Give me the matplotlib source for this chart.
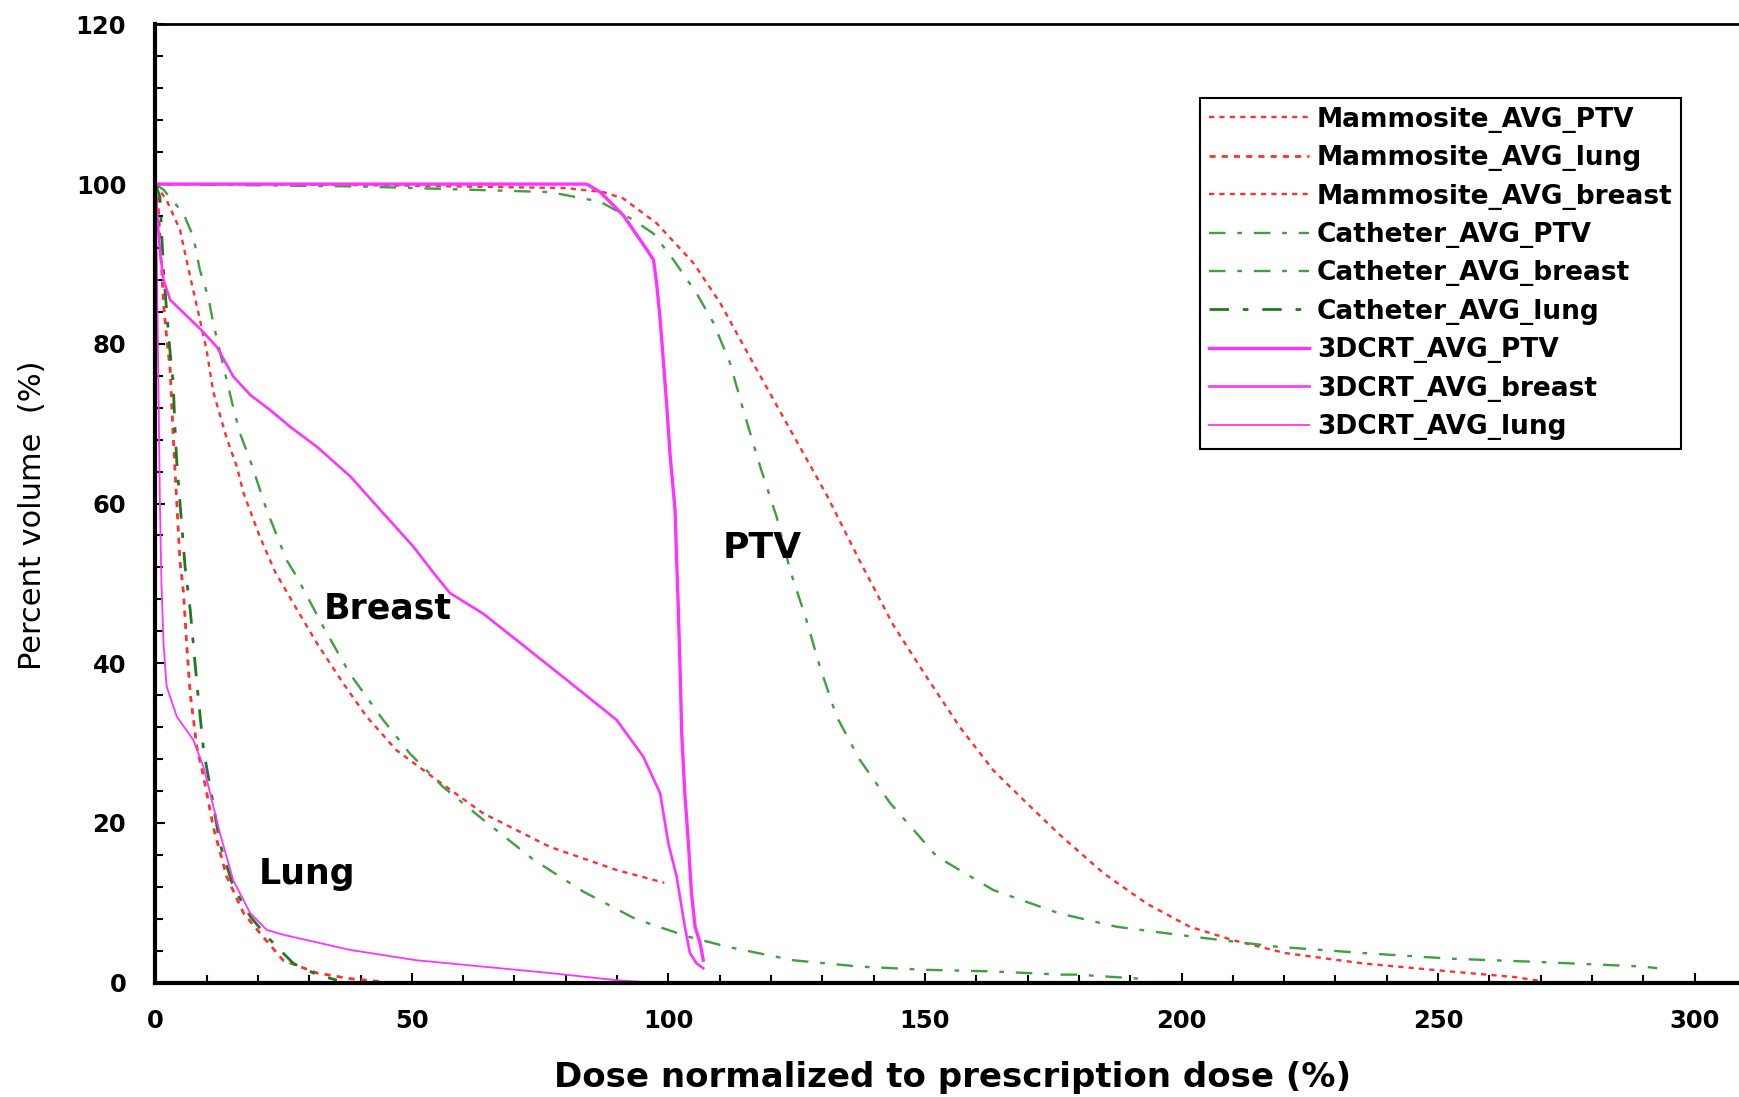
import numpy as np
import matplotlib
matplotlib.use('Agg')
import matplotlib.pyplot as plt
from matplotlib.ticker import MultipleLocator

# --- data (dose %, volume %) ---
mam_ptv_x = [0, 20, 50, 80, 87.3, 91.2, 97.7, 104.9, 110.1, 116.5, 124.3, 130.9, 137.3, 143.8,
             150.3, 156.8, 163.3, 169.8, 176.3, 184.8, 193.2, 201.6, 210.1, 220.2, 235.4, 252.3, 264.9, 270]
mam_ptv_y = [100, 100, 99.8, 99.5, 99.0, 98.2, 95.1, 90.1, 85.1, 77.6, 68.6, 61.0, 52.8, 44.8,
             38.3, 32.0, 26.6, 22.5, 18.5, 13.7, 9.9, 7.0, 5.3, 3.7, 2.4, 1.4, 0.7, 0.2]

mam_lung_x = [0, 0.5, 0.9, 1.6, 2.2, 2.9, 3.2, 3.5, 3.8, 4.8, 5.5, 6.1, 6.8, 8.1, 9.4, 11.3,
              13.9, 17.2, 20.4, 24.9, 31.5, 37.9, 44.4]
mam_lung_y = [100, 98, 93.4, 85.1, 80.9, 76.7, 72.5, 68.4, 64.6, 52.9, 48.8, 42.5, 36.2, 29.5, 25.8, 19.5,
              13.3, 8.7, 6.2, 2.8, 1.2, 0.5, 0.1]

mam_breast_x = [0, 0.3, 2.2, 4.8, 6.8, 8.7, 10.0, 11.3, 13.9, 15.9, 17.2, 20.4, 23.3, 26.9, 31.5,
                36.6, 41.2, 47.0, 54.8, 63.9, 76.9, 89.9, 99.2]
mam_breast_y = [100, 99.7, 98.0, 94.3, 88.4, 83.0, 79.2, 74.0, 68.2, 64.6, 61.3, 55.8, 51.5, 47.5, 42.5,
                37.5, 33.3, 29.1, 25.4, 21.2, 17.0, 14.1, 12.5]

cat_ptv_x = [0, 40, 76.9, 86.7, 93.2, 97.1, 101, 105.5, 108.8, 112.0, 114.6, 117.9, 121.1, 123.7,
             126.9, 129.5, 132.8, 137.3, 143.2, 152.3, 163.3, 176, 187.3, 201.6, 218.5, 235.4,
             252.3, 269.1, 290.2, 292.7]
cat_ptv_y = [100, 99.7, 99.0, 97.8, 95.5, 93.8, 90.5, 86.3, 82.6, 77.6, 71.7, 64.6, 58.3, 51.7,
             45.4, 39.6, 33.3, 27.9, 22.5, 15.8, 11.6, 8.7, 7.0, 5.8, 4.5, 3.7,
             3.0, 2.6, 2.0, 1.8]

cat_breast_x = [0, 1.6, 5.5, 7.4, 8.7, 10.3, 11.3, 13.3, 15.2, 16.5, 18.5, 21.7, 25.6, 27.6, 32.7,
                37.9, 44.4, 49.6, 56.1, 63.9, 73.7, 83.4, 93.5, 103.6, 111.4, 124.3, 137.3, 150.3,
                163.3, 176.3, 179.7, 191.5]
cat_breast_y = [100, 99.3, 96.3, 93.4, 89.2, 85.9, 82.6, 77.1, 72.0, 68.8, 65.4, 59.2, 52.9, 50.8, 44.6,
                38.7, 32.9, 28.7, 24.5, 20.4, 15.4, 11.4, 8.0, 5.8, 4.5, 2.8, 2.0, 1.6,
                1.4, 1.0, 1.0, 0.5]

cat_lung_x = [0, 0.9, 1.6, 2.2, 2.9, 3.5, 3.8, 4.2, 5.8, 6.8, 8.1, 9.4, 10.7, 12.6, 15.2, 18.5,
              21.7, 26.9, 31.5, 35.4]
cat_lung_y = [100, 98.4, 89.2, 84.2, 78.8, 75.0, 70.0, 65.0, 52.1, 46.7, 37.5, 29.1, 24.5, 17.4, 12.0, 8.3,
              5.8, 2.4, 1.0, 0.3]

crt_ptv_x = [0, 84.1, 86.7, 91.2, 96.1, 97.1, 97.7, 98.4, 99.0, 99.7, 100.3, 101.3, 101.6, 101.9,
             102.3, 102.6, 103.2, 103.9, 104.5, 105.2, 106.2, 106.8]
crt_ptv_y = [100, 100, 99.0, 96.1, 91.5, 90.5, 87.6, 83.0, 78.0, 72.1, 66.3, 59.2, 52.9, 47.5,
             38.7, 31.2, 23.7, 17.4, 11.2, 7.0, 4.9, 2.8]

crt_breast_x = [0, 0.5, 1.0, 1.6, 2.9, 9.0, 12.0, 15.2, 18.5, 22.4, 26.3, 31.5, 38.0, 44.4, 50.3,
                54.0, 57.4, 63.9, 70.4, 80.2, 89.9, 95.1, 98.4, 100.0, 101.6, 103.2, 104.2, 105.5, 106.8]
crt_breast_y = [100, 95, 91, 88.0, 85.5, 81.7, 79.6, 75.9, 73.6, 71.7, 69.6, 67.1, 63.4, 58.8, 54.6,
                51.5, 48.8, 46.2, 42.9, 37.9, 32.9, 28.3, 23.7, 17.4, 13.3, 7.0, 3.7, 2.4, 1.8]

crt_lung_x = [0, 0.3, 0.6, 0.9, 1.2, 1.6, 2.2, 4.2, 7.4, 9.4, 10.7, 12.6, 15.2, 18.5, 21.7, 24.9,
              37.9, 50.9, 63.9, 76.9, 89.9, 97]
crt_lung_y = [100, 90, 75, 60, 50, 42.5, 37.1, 33.3, 30.4, 27.0, 23.7, 18.7, 12.8, 8.7, 6.6, 6.0,
              4.1, 2.8, 2.0, 1.2, 0.3, 0]

RED = '#ff3030'
GREEN = '#3ea03e'
DKGREEN = '#1e7a1e'
MAG = '#ff33ff'
FONT = 'DejaVu Sans'

W, H = 1739, 1097
fig = plt.figure(figsize=(W / 100, H / 100), dpi=100)
x0, x1, y0, y1 = 155.3, 1739, 982.6, 24.4
ax = fig.add_axes([x0 / W, (H - y0) / H, (x1 - x0) / W, (y0 - y1) / H])

dots = (0, (2.2, 2.2))
dashdot = (0, (7, 5, 2, 5))

h = []
h += ax.plot(mam_ptv_x, mam_ptv_y, color=RED, lw=1.7, ls=dots, label='Mammosite_AVG_PTV')
h += ax.plot(mam_lung_x, mam_lung_y, color=RED, lw=2.0, ls=dots, label='Mammosite_AVG_lung')
h += ax.plot(mam_breast_x, mam_breast_y, color=RED, lw=1.7, ls=dots, label='Mammosite_AVG_breast')
h += ax.plot(cat_ptv_x, cat_ptv_y, color=GREEN, lw=1.7, ls=dashdot, label='Catheter_AVG_PTV')
h += ax.plot(cat_breast_x, cat_breast_y, color=GREEN, lw=1.7, ls=dashdot, label='Catheter_AVG_breast')
h += ax.plot(cat_lung_x, cat_lung_y, color=DKGREEN, lw=2.0, ls=dashdot, label='Catheter_AVG_lung')
h += ax.plot(crt_ptv_x, crt_ptv_y, color=MAG, lw=2.4, label='3DCRT_AVG_PTV')
h += ax.plot(crt_breast_x, crt_breast_y, color=MAG, lw=1.9, label='3DCRT_AVG_breast')
h += ax.plot(crt_lung_x, crt_lung_y, color=MAG, lw=1.3, label='3DCRT_AVG_lung')

ax.set_xlim(0, (x1 - x0) / 5.131)
ax.set_ylim(0, 120)

ax.xaxis.set_major_locator(MultipleLocator(50))
ax.xaxis.set_minor_locator(MultipleLocator(10))
ax.yaxis.set_major_locator(MultipleLocator(20))
ax.yaxis.set_minor_locator(MultipleLocator(4))
ax.tick_params(which='both', direction='in', width=1.5, top=False, right=False)
ax.tick_params(which='major', length=7)
ax.tick_params(which='minor', length=6)
ax.tick_params(axis='y', which='major', pad=21)
ax.tick_params(axis='x', which='major', pad=19)
for lab in ax.get_xticklabels() + ax.get_yticklabels():
    lab.set_fontfamily(FONT)
    lab.set_fontweight('bold')
    lab.set_fontsize(17.5)

ax.spines['right'].set_visible(False)
ax.spines['left'].set_linewidth(3)
ax.spines['bottom'].set_linewidth(3)
ax.spines['top'].set_linewidth(2)

fig.text(952 / W, 1 - 1077 / H, 'Dose normalized to prescription dose (%)', ha='center', va='center',
         fontsize=24.5, fontweight='bold', family=FONT)
fig.text(33 / W, 1 - 515 / H, 'Percent volume  (%)', ha='center', va='center', rotation=90,
         fontsize=22, family=FONT)

ax.text(32.9, 46.8, 'Breast', fontsize=25, fontweight='bold', family=FONT, va='center')
ax.text(20.1, 13.6, 'Lung', fontsize=25, fontweight='bold', family=FONT, va='center')
ax.text(110.6, 54.4, 'PTV', fontsize=26, fontweight='bold', family=FONT, va='center')

leg = ax.legend(handles=h, loc='upper left', bbox_to_anchor=(1200 / W, 1 - 98 / H),
                bbox_transform=fig.transFigure, fancybox=False, edgecolor='black',
                framealpha=1, handlelength=3.8, handletextpad=0.3, labelspacing=0.47,
                borderpad=0.33, borderaxespad=0,
                prop={'family': FONT, 'weight': 'bold', 'size': 19})
leg.get_frame().set_linewidth(1.5)

fig.savefig('out.png', dpi=100)
